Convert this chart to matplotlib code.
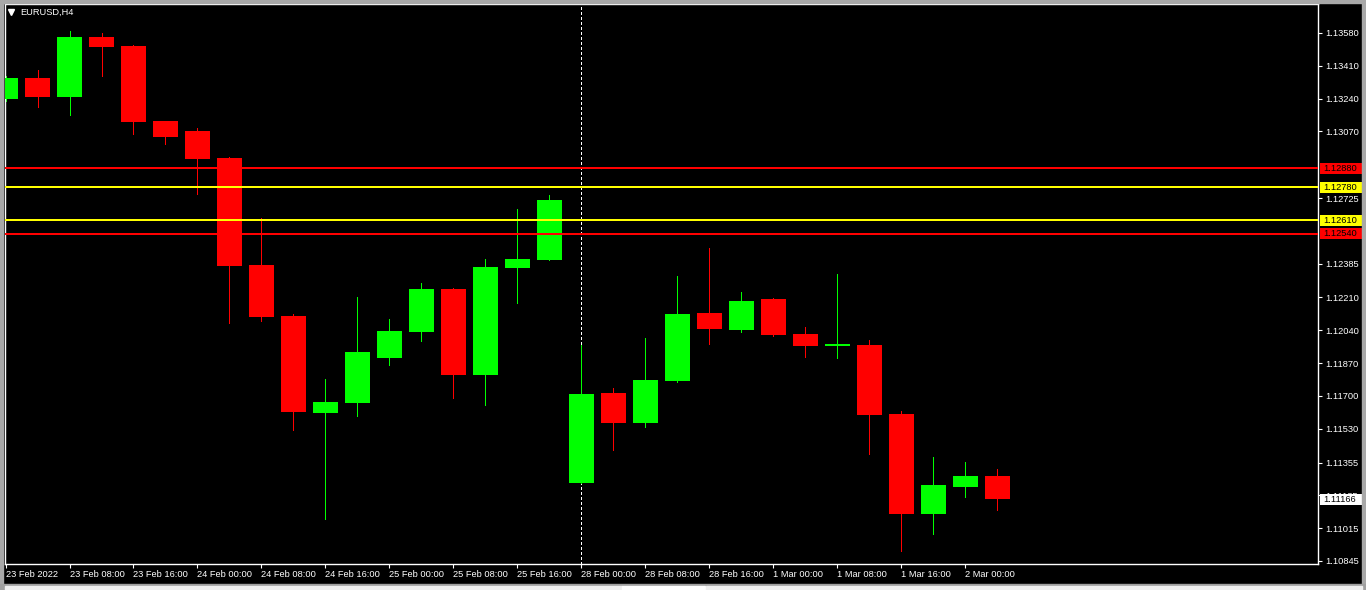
#!/usr/bin/env python3
# -*- coding = utf-8 -*-
import matplotlib
matplotlib.use('Agg')
import matplotlib.pyplot as plt
from matplotlib.patches import Rectangle
import matplotlib.transforms as mtransforms

# EURUSD H4 candles, 23 Feb 2022 00:00 .. 2 Mar 2022 04:00 (weekend skipped)
opens = [1.13238, 1.13347, 1.13248, 1.13559, 1.13513, 1.13124, 1.13072, 1.12933,
         1.12378, 1.12114, 1.11612, 1.11663, 1.11897, 1.12031, 1.12254, 1.11808,
         1.12363, 1.12404, 1.11249, 1.11715, 1.11560, 1.11777, 1.12130, 1.12042,
         1.12202, 1.12021, 1.11961, 1.11964, 1.11606, 1.11088, 1.11228, 1.11285]
highs = [1.13357, 1.13388, 1.13590, 1.13580, 1.13518, 1.13124, 1.13088, 1.12938,
         1.12622, 1.12124, 1.11788, 1.12213, 1.12099, 1.12285, 1.12259, 1.12409,
         1.12668, 1.12741, 1.11964, 1.11741, 1.12000, 1.12321, 1.12466, 1.12238,
         1.12207, 1.12057, 1.12332, 1.11990, 1.11622, 1.11384, 1.11358, 1.11322]
lows = [1.13228, 1.13197, 1.13155, 1.13357, 1.13057, 1.13005, 1.12746, 1.12078,
        1.12088, 1.11524, 1.11063, 1.11596, 1.11860, 1.11985, 1.11689, 1.11653,
        1.12181, 1.12404, 1.11249, 1.11420, 1.11539, 1.11772, 1.11969, 1.12031,
        1.12010, 1.11902, 1.11897, 1.11399, 1.10897, 1.10985, 1.11177, 1.11109]
closes = [1.13347, 1.13248, 1.13559, 1.13508, 1.13119, 1.13041, 1.12927, 1.12373,
          1.12109, 1.11617, 1.11669, 1.11928, 1.12036, 1.12254, 1.11808, 1.12368,
          1.12409, 1.12715, 1.11710, 1.11560, 1.11783, 1.12124, 1.12047, 1.12192,
          1.12016, 1.11959, 1.11967, 1.11601, 1.11088, 1.11239, 1.11285, 1.11166]

time_labels = ['23 Feb 2022', '23 Feb 08:00', '23 Feb 16:00', '24 Feb 00:00',
               '24 Feb 08:00', '24 Feb 16:00', '25 Feb 00:00', '25 Feb 08:00',
               '25 Feb 16:00', '28 Feb 00:00', '28 Feb 08:00', '28 Feb 16:00',
               '1 Mar 00:00', '1 Mar 08:00', '1 Mar 16:00', '2 Mar 00:00']

price_ticks = [1.13580, 1.13410, 1.13240, 1.13070, 1.12725, 1.12385, 1.12210,
               1.12040, 1.11870, 1.11700, 1.11530, 1.11355, 1.11185, 1.11015,
               1.10845]

levels = [1.12880, 1.12780, 1.12610, 1.12540]
level_colors = ['#ff0000', '#ffff00', '#ffff00', '#ff0000']

symbol = 'EURUSD,H4'
cursor_bar = 18  # 28 Feb 00:00

W, H = 1366, 590


def main():
    plt.rcParams['font.family'] = ['Liberation Sans', 'DejaVu Sans']
    fig = plt.figure(figsize=(W / 100, H / 100), dpi=100, facecolor='black')

    # window frame (grey edges + status strip at the bottom)
    fig.patches.append(Rectangle((0, 1 - 3 / H), 1, 3 / H, transform=fig.transFigure, color='#a8a8a8'))
    fig.patches.append(Rectangle((0, 0), 3 / W, 1, transform=fig.transFigure, color='#a8a8a8'))
    fig.patches.append(Rectangle((1 - 4 / W, 0), 4 / W, 1, transform=fig.transFigure, color='#a8a8a8'))
    fig.patches.append(Rectangle((0, 0), 1, 6 / H, transform=fig.transFigure, color='#a0a0a0'))
    fig.patches.append(Rectangle((5 / W, 0), 617 / W, 4 / H, transform=fig.transFigure, color='#f0f0f0'))
    fig.patches.append(Rectangle((622 / W, 0), 83 / W, 4 / H, transform=fig.transFigure, color='#ffffff'))
    fig.patches.append(Rectangle((706 / W, 0), 656 / W, 4 / H, transform=fig.transFigure, color='#f0f0f0'))

    ax = fig.add_axes([5 / W, 26 / H, 1313 / W, 560 / H])
    ax.set_facecolor('black')

    n = len(opens)
    idx = list(range(n))
    cols = ['#00ff00' if c >= o else '#ff0000' for o, c in zip(opens, closes)]

    # wicks (1 px)
    ax.vlines(idx, lows, highs, colors=cols, linewidth=0.7, antialiased=False, zorder=2)
    # bodies
    bottoms = [min(o, c) for o, c in zip(opens, closes)]
    heights = [max(abs(c - o), 0.00006) for o, c in zip(opens, closes)]
    ax.bar(idx, heights, bottom=bottoms, width=0.78, color=cols, linewidth=0,
           antialiased=False, zorder=3)

    # horizontal levels (2 px)
    for lv, lc in zip(levels, level_colors):
        ax.axhline(lv, color=lc, linewidth=1.4, antialiased=False, zorder=4)

    # period separator / crosshair
    ax.axvline(cursor_bar, color='white', linewidth=0.7, linestyle=(0, (3, 3)),
               antialiased=False, zorder=1)

    ax.set_xlim(-0.016, 41.02)
    ax.set_ylim(1.108294, 1.137302)

    for s in ax.spines.values():
        s.set_color('white')
        s.set_linewidth(1)

    # price axis on the right
    ax.yaxis.tick_right()
    ax.set_yticks(price_ticks)
    ax.set_yticklabels(['%.5f' % p for p in price_ticks])
    ax.tick_params(axis='y', colors='white', labelsize=6.7, length=3, width=0.8, pad=2)

    # time axis
    ax.set_xticks(idx[::2])
    ax.set_xticklabels(time_labels)
    ax.tick_params(axis='x', colors='white', labelsize=6.7, length=3, width=0.8, pad=1.5)
    for t in ax.get_xticklabels():
        t.set_horizontalalignment('left')

    # price labels for the levels and the last close
    trans = mtransforms.blended_transform_factory(ax.transAxes, ax.transData)
    box_h = 11 * (1.137302 - 1.108294) / 560
    tags = list(zip(levels, level_colors, ['black'] * 4)) + [(closes[-1], 'white', 'black')]
    for val, bg, fg in tags:
        ax.add_patch(Rectangle((1 + 2 / 1313, val - box_h / 2), 42 / 1313, box_h, transform=trans,
                               facecolor=bg, edgecolor='none', clip_on=False, zorder=10))
        ax.text(1 + 5 / 1313, val, '%.5f' % val, transform=trans, color=fg, fontsize=6.7,
                va='center', ha='left', zorder=11, clip_on=False)

    # symbol title
    ax.plot([6 / 1313], [1 - 8 / 560], marker='v', markersize=4, color='white',
            transform=ax.transAxes, clip_on=False)
    ax.text(15 / 1313, 1 - 8 / 560, symbol, transform=ax.transAxes, color='white',
            fontsize=6.7, va='center', ha='left')

    fig.savefig('out.png', dpi=100, facecolor='black')


if __name__ == '__main__':
    main()
